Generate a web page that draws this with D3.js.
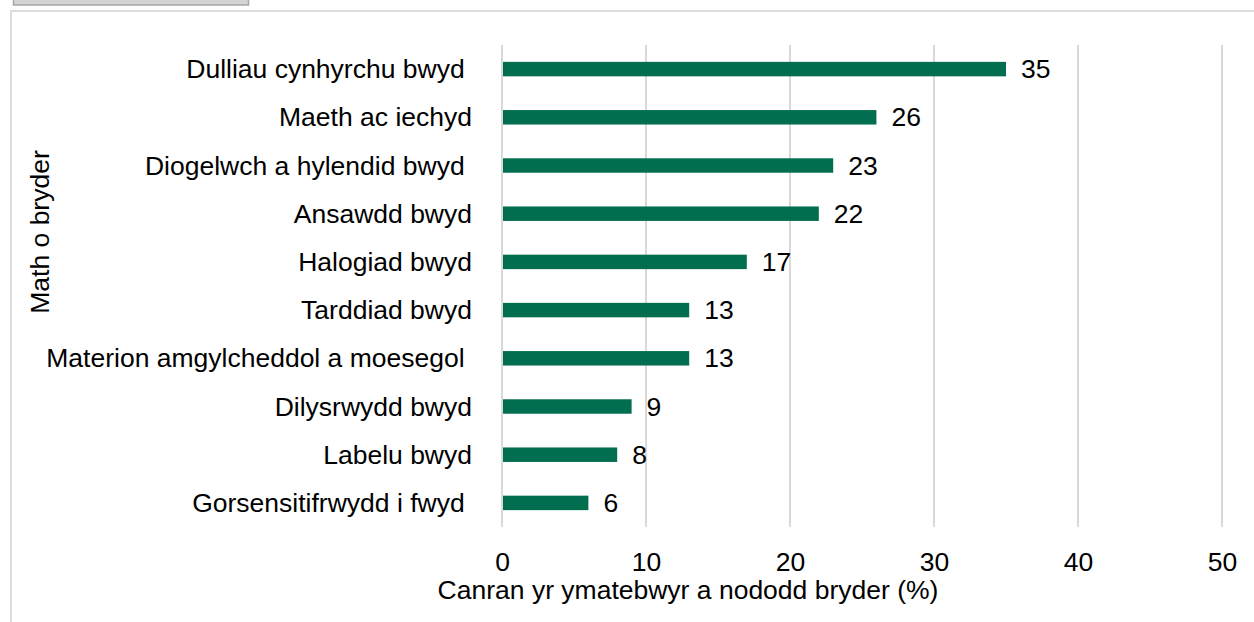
<!DOCTYPE html>
<html>
<head>
<meta charset="utf-8">
<script src="https://cdn.jsdelivr.net/npm/d3@7"></script>
<style>
  body { margin: 0; background: #fff; }
  svg { display: block; font-family: "Liberation Sans", Arial, sans-serif; }
</style>
</head>
<body>
<svg width="1254" height="622"></svg>
<script>
var categories = [
  "Dulliau cynhyrchu bwyd ",
  "Maeth ac iechyd",
  "Diogelwch a hylendid bwyd ",
  "Ansawdd bwyd",
  "Halogiad bwyd",
  "Tarddiad bwyd",
  "Materion amgylcheddol a moesegol ",
  "Dilysrwydd bwyd",
  "Labelu bwyd",
  "Gorsensitifrwydd i fwyd "
];
var values = [35, 26, 23, 22, 17, 13, 13, 9, 8, 6];
var xTicks = [0, 10, 20, 30, 40, 50];

var svg = d3.select("svg"),
    margin = {top: 45, right: 32, bottom: 95, left: 502},
    width = +svg.attr("width") - margin.left - margin.right,
    height = +svg.attr("height") - margin.top - margin.bottom,
    fs = 26.5;

// frame and the grey tab at top left
svg.append("rect")
    .attr("x", 13.5).attr("y", -5)
    .attr("width", 235).attr("height", 10)
    .attr("fill", "#d4d4d4")
    .attr("stroke", "#a6a6a6")
    .attr("stroke-width", 1.5);
svg.append("line")
    .attr("x1", 10).attr("x2", 1254).attr("y1", 11).attr("y2", 11)
    .attr("stroke", "#dcdcdc").attr("stroke-width", 2);
svg.append("line")
    .attr("x1", 11).attr("x2", 11).attr("y1", 10).attr("y2", 622)
    .attr("stroke", "#dcdcdc").attr("stroke-width", 2);

var x = d3.scaleLinear().domain([0, 50]).range([0, width]);
var y = d3.scaleBand().domain(categories).range([0, height]).paddingInner(0.7).paddingOuter(0.35);

var g = svg.append("g")
    .attr("transform", "translate(" + margin.left + "," + margin.top + ")");

g.selectAll(".grid")
    .data(xTicks)
    .enter().append("line")
    .attr("class", "grid")
    .attr("x1", function(d) { return x(d); })
    .attr("x2", function(d) { return x(d); })
    .attr("y1", 0)
    .attr("y2", height)
    .attr("stroke", "#d9d9d9")
    .attr("stroke-width", 2);

g.selectAll(".bar")
    .data(values)
    .enter().append("rect")
    .attr("class", "bar")
    .attr("x", x(0) + 1)
    .attr("y", function(d, i) { return y(categories[i]); })
    .attr("width", function(d) { return x(d) - x(0) - 1; })
    .attr("height", y.bandwidth())
    .attr("fill", "#006e4f");

g.selectAll(".val")
    .data(values)
    .enter().append("text")
    .attr("class", "val")
    .attr("x", function(d) { return x(d) + 15; })
    .attr("y", function(d, i) { return y(categories[i]) + y.bandwidth() / 2 + 9; })
    .attr("font-size", fs)
    .attr("fill", "#000")
    .text(function(d) { return d; });

g.selectAll(".cat")
    .data(categories)
    .enter().append("text")
    .attr("class", "cat")
    .attr("x", -30)
    .attr("y", function(d) { return y(d) + y.bandwidth() / 2 + 9; })
    .attr("text-anchor", "end")
    .attr("font-size", fs)
    .style("white-space", "pre")
    .attr("fill", "#000")
    .text(function(d) { return d; });

var xAxis = d3.axisBottom(x).tickValues(xTicks).tickSize(0).tickPadding(0);
var ax = g.append("g")
    .attr("transform", "translate(0," + (height + 44) + ")")
    .call(xAxis);
ax.select(".domain").remove();
ax.selectAll("text")
    .attr("font-size", fs)
    .attr("font-family", "Liberation Sans, Arial, sans-serif")
    .attr("fill", "#000")
    .attr("dy", "0");

svg.append("text")
    .attr("x", 688)
    .attr("y", 599)
    .attr("text-anchor", "middle")
    .attr("font-size", fs)
    .text("Canran yr ymatebwyr a nododd bryder (%)");

svg.append("text")
    .attr("transform", "translate(49,232) rotate(-90)")
    .attr("text-anchor", "middle")
    .attr("font-size", fs)
    .text("Math o bryder");
</script>
</body>
</html>
